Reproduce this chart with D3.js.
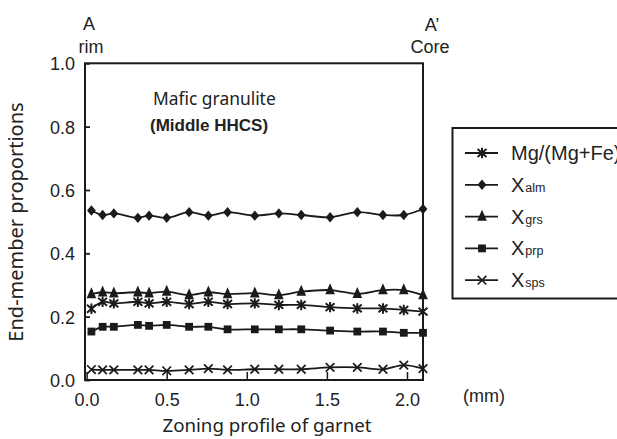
<!DOCTYPE html>
<html>
<head>
<meta charset="utf-8">
<script src="https://cdn.jsdelivr.net/npm/d3@7"></script>
<style>
  html, body { margin: 0; padding: 0; background: #fff; }
  svg { display: block; }
  .tick text { font-family: "Liberation Sans", Arial, sans-serif; font-size: 18px; fill: #222; }
</style>
</head>
<body>
<svg id="chart" width="617" height="439"></svg>
<script>
// Distance along the garnet profile (mm), rim -> core
const distance = [0.03, 0.10, 0.17, 0.32, 0.39, 0.50, 0.64, 0.76, 0.88, 1.05, 1.20, 1.34, 1.52, 1.69, 1.85, 1.98, 2.10];

// End-member proportions at each analysis point
const mgNumber = [0.225, 0.247, 0.242, 0.247, 0.242, 0.247, 0.240, 0.247, 0.240, 0.242, 0.237, 0.237, 0.230, 0.226, 0.226, 0.221, 0.216];
const xAlm = [0.535, 0.521, 0.526, 0.512, 0.519, 0.512, 0.530, 0.519, 0.530, 0.519, 0.526, 0.521, 0.514, 0.530, 0.521, 0.521, 0.540];
const xGrs = [0.271, 0.277, 0.274, 0.277, 0.274, 0.279, 0.268, 0.277, 0.271, 0.274, 0.268, 0.279, 0.284, 0.272, 0.284, 0.284, 0.268];
const xPrp = [0.153, 0.168, 0.168, 0.174, 0.171, 0.174, 0.168, 0.168, 0.160, 0.160, 0.160, 0.160, 0.156, 0.153, 0.153, 0.149, 0.149];
const xSps = [0.033, 0.032, 0.032, 0.032, 0.032, 0.029, 0.032, 0.036, 0.032, 0.034, 0.034, 0.034, 0.040, 0.040, 0.034, 0.047, 0.036];

const xTicks = [0, 0.5, 1.0, 1.5, 2.0];
const yTicks = [0, 0.2, 0.4, 0.6, 0.8, 1.0];

const series = [
  { main: "Mg/(Mg+Fe)", sub: "", values: mgNumber, marker: "asterisk" },
  { main: "X", sub: "alm", values: xAlm, marker: "diamond" },
  { main: "X", sub: "grs", values: xGrs, marker: "triangle" },
  { main: "X", sub: "prp", values: xPrp, marker: "square" },
  { main: "X", sub: "sps", values: xSps, marker: "cross" }
];

const svg = d3.select("#chart");
const ink = "#1a1a1a";
const plotLeft = 85, plotRight = 423, plotTop = 63.3, plotBottom = 380;

const x = d3.scaleLinear().domain([-0.01, 2.1]).range([plotLeft, plotRight]);
const y = d3.scaleLinear().domain([0, 1]).range([plotBottom, plotTop]);

// Marker shapes drawn around the origin
function drawMarker(g, kind) {
  if (kind === "asterisk") {
    const s = 5.2;
    g.append("path")
      .attr("d", `M0,${-s}V${s}M${-s * 0.85},${-s * 0.75}L${s * 0.85},${s * 0.75}M${-s * 0.85},${s * 0.75}L${s * 0.85},${-s * 0.75}`)
      .attr("stroke", ink).attr("stroke-width", 2).attr("fill", "none");
  } else if (kind === "diamond") {
    g.append("path").attr("d", "M0,-5.2L4.4,0L0,5.2L-4.4,0Z").attr("fill", ink);
  } else if (kind === "triangle") {
    g.append("path").attr("d", "M0,-6.8L4.8,4.2L-4.8,4.2Z").attr("fill", ink);
  } else if (kind === "square") {
    g.append("rect").attr("x", -3.9).attr("y", -3.9).attr("width", 7.8).attr("height", 7.8).attr("fill", ink);
  } else if (kind === "cross") {
    const s = 4.3;
    g.append("path").attr("d", `M${-s},${-s}L${s},${s}M${-s},${s}L${s},${-s}`)
      .attr("stroke", ink).attr("stroke-width", 1.7).attr("fill", "none");
  }
}

// Axes with inward ticks
const yAxis = d3.axisLeft(y).tickValues(yTicks).tickFormat(d3.format(".1f"))
  .tickSizeInner(-5).tickSizeOuter(0).tickPadding(10);
const yg = svg.append("g").attr("transform", `translate(${plotLeft},0)`).call(yAxis);
yg.selectAll(".tick line").attr("stroke", ink).attr("stroke-width", 1.8);
yg.selectAll(".tick text").attr("dy", "0.36em");

const xAxis = d3.axisBottom(x).tickValues(xTicks).tickFormat(d3.format(".1f"))
  .tickSizeInner(-8).tickSizeOuter(0).tickPadding(13);
const xg = svg.append("g").attr("transform", `translate(0,${plotBottom})`).call(xAxis);
xg.selectAll(".tick line").attr("stroke", ink).attr("stroke-width", 1.5);
xg.selectAll(".domain").remove();
yg.selectAll(".domain").remove();

// Plot frame
svg.append("rect").attr("x", plotLeft).attr("y", plotTop)
  .attr("width", plotRight - plotLeft).attr("height", plotBottom - plotTop)
  .attr("fill", "none").attr("stroke", ink).attr("stroke-width", 2);

// Series lines and markers
const line = d3.line().x((d, i) => x(distance[i])).y(d => y(d)).curve(d3.curveCatmullRom.alpha(0.5));
series.forEach(s => {
  svg.append("path").attr("d", line(s.values))
    .attr("fill", "none").attr("stroke", ink).attr("stroke-width", 1.8);
  s.values.forEach((v, i) => {
    const g = svg.append("g").attr("transform", `translate(${x(distance[i])},${y(v)})`);
    drawMarker(g, s.marker);
  });
});

// Text annotations
const sansA = "'Liberation Sans', Arial, sans-serif";
const sansB = "'Noto Sans', 'Open Sans', sans-serif";
function label(txt, px, py, opts = {}) {
  return svg.append("text").attr("x", px).attr("y", py)
    .attr("text-anchor", opts.anchor || "middle")
    .attr("font-family", opts.family || sansA)
    .attr("font-size", opts.size || 17)
    .attr("font-weight", opts.weight || "normal")
    .attr("fill", "#222").text(txt);
}
label("A", 89, 30, { size: 18 });
label("rim", 91, 53, { size: 18 });
label("A\u2019", 432, 31, { size: 18 });
label("Core", 430, 53, { size: 18 });
label("Mafic granulite", 153, 105, { anchor: "start", family: sansB, size: 17.4 });
label("(Middle HHCS)", 150, 131, { anchor: "start", weight: "bold", size: 17 });
label("(mm)", 463, 402, { anchor: "start", size: 18 });
label("Zoning profile of garnet", 267, 432, { family: sansB, size: 18.7 });
svg.append("text")
  .attr("transform", "translate(23,222) rotate(-90)")
  .attr("text-anchor", "middle").attr("font-family", sansB).attr("font-size", 20)
  .attr("fill", "#222").text("End-member proportions");

// Legend
const lg = svg.append("g");
lg.append("rect").attr("x", 452.5).attr("y", 128).attr("width", 200).attr("height", 170.5)
  .attr("fill", "#fff").attr("stroke", ink).attr("stroke-width", 2);
series.forEach((s, i) => {
  const ry = 153 + i * 31.8;
  lg.append("line").attr("x1", 465).attr("x2", 498).attr("y1", ry).attr("y2", ry)
    .attr("stroke", ink).attr("stroke-width", 1.8);
  drawMarker(lg.append("g").attr("transform", `translate(482,${ry})`), s.marker);
  const t = lg.append("text").attr("x", 511).attr("y", ry + 7)
    .attr("font-family", sansA).attr("font-size", 20).attr("fill", "#222");
  t.append("tspan").text(s.main);
  if (s.sub) t.append("tspan").attr("font-size", 12.5).attr("dx", 1).text(s.sub);
});
</script>
</body>
</html>
